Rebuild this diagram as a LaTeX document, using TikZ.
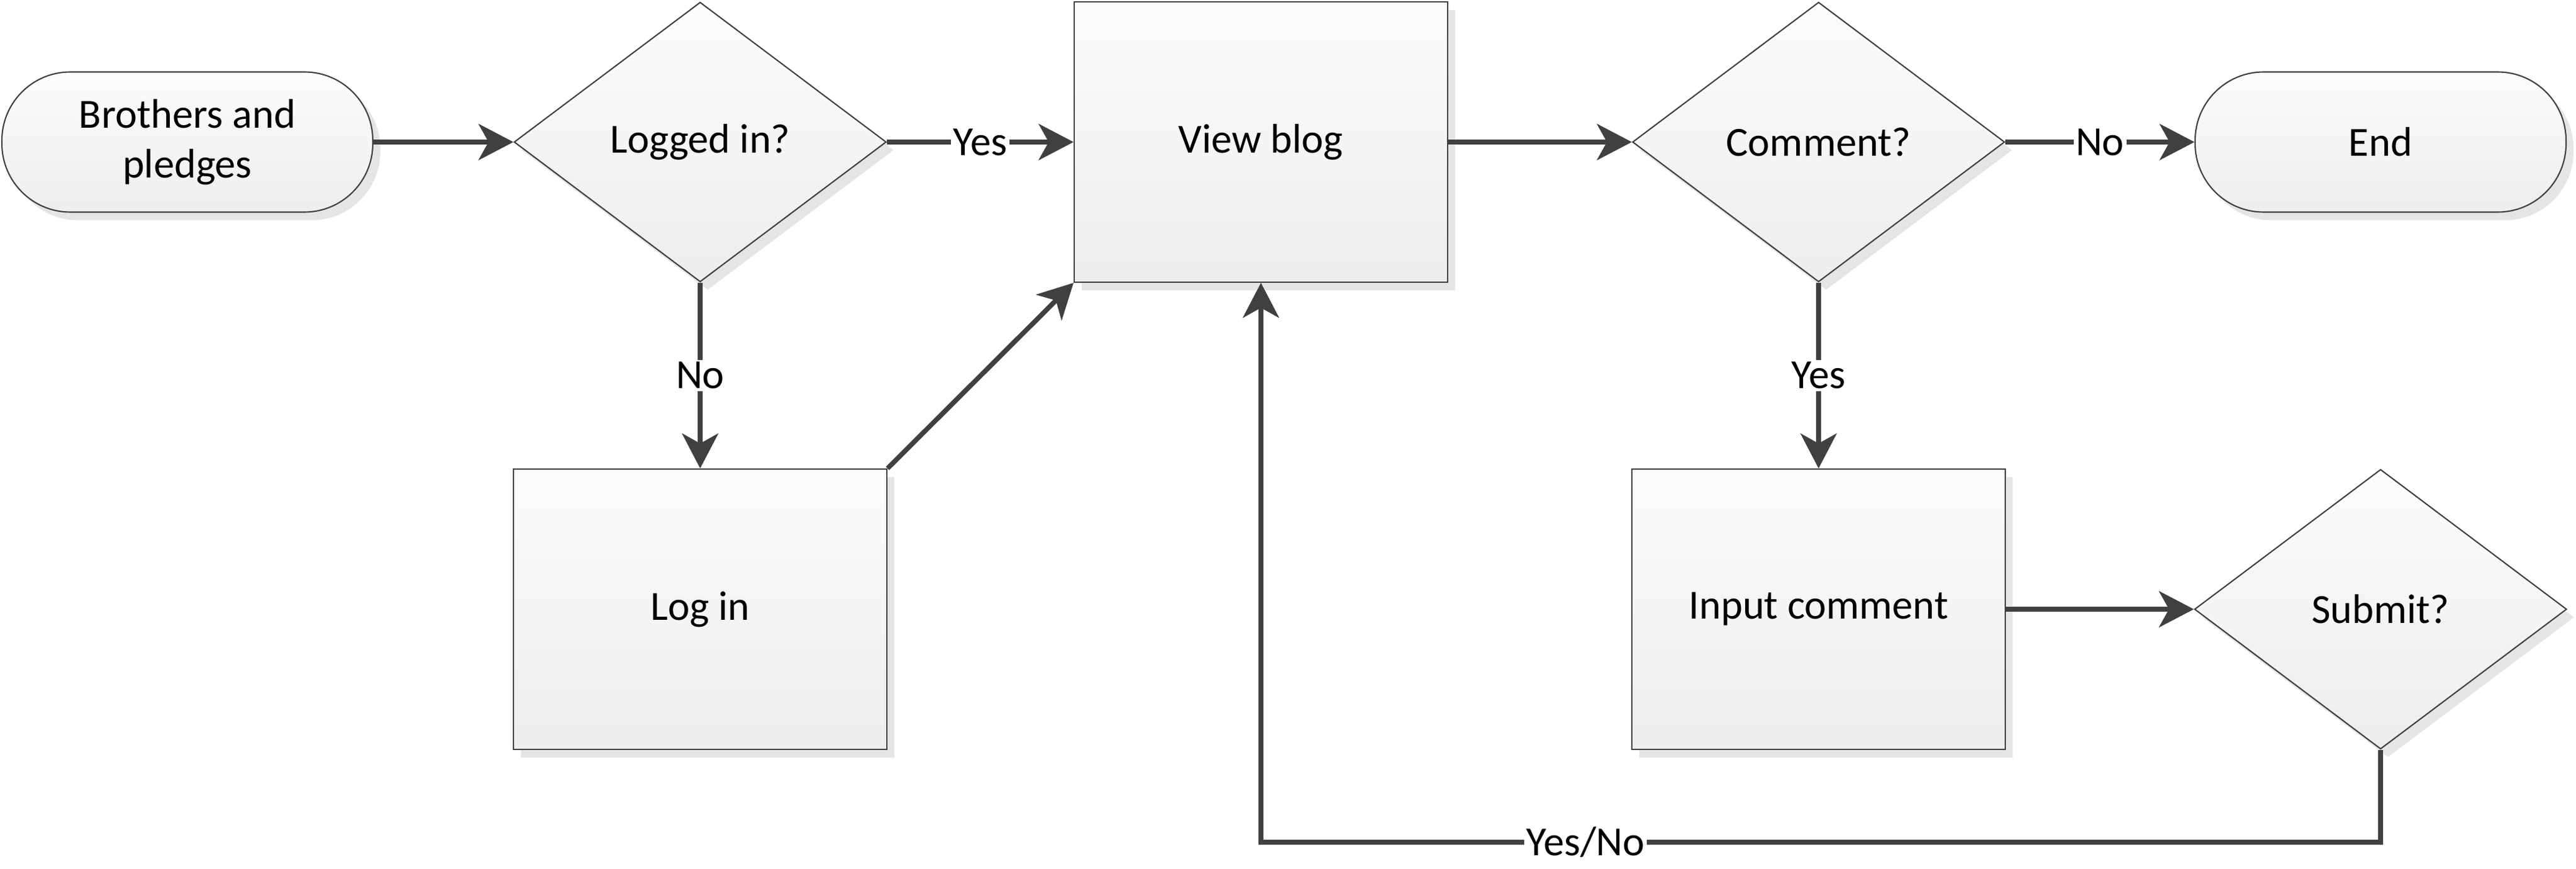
\documentclass[tikz,border=0pt]{standalone}
\usepackage{fontspec}
\setmainfont{Carlito}
\usetikzlibrary{shapes.geometric,shadows,arrows.meta}
\definecolor{edge}{HTML}{404040}
\tikzset{
    shape base/.style={draw=edge, line width=0.6pt, top color=black!1, bottom color=black!7,
        drop shadow={shadow xshift=0.12cm, shadow yshift=-0.13cm, fill=black!10, opacity=1},
        font=\fontsize{18.9}{22.6}\selectfont, align=center},
    box/.style={shape base, rectangle, minimum width=6cm, minimum height=4.5cm},
    decision/.style={shape base, diamond, aspect=1.33, inner sep=0pt, minimum width=5.98cm, minimum height=4.49cm},
    terminal/.style={shape base, rectangle, rounded corners=1.1cm, minimum width=5.96cm, minimum height=2.25cm},
    flow/.style={draw=edge, line width=2.2pt, -{Stealth[length=5.6mm, width=5.8mm, inset=1.6mm]}},
    lbl/.style={fill=white, inner sep=1pt, font=\fontsize{18.9}{22.6}\selectfont},
}
\begin{document}
\begin{tikzpicture}
    \useasboundingbox (0, 0) rectangle (41.39, -13.95);
    \node[terminal] (start) at (3.01, -2.28) {Brothers and\\pledges};
    \node[decision] (logged) at (11.25, -2.28) {Logged in?};
    \node[box] (view) at (20.26, -2.28) {View blog};
    \node[decision] (comment) at (29.22, -2.28) {Comment?};
    \node[terminal] (end) at (38.25, -2.28) {End};
    \node[box] (login) at (11.25, -9.78) {Log in};
    \node[box] (input) at (29.22, -9.78) {Input comment};
    \node[decision] (submit) at (38.25, -9.78) {Submit?};
    \coordinate (loop) at (38.25, -13.52);
    \draw[flow] (start.east) -- (logged.west);
    \draw[flow] (logged.east) -- node[lbl] {Yes} (view.west);
    \draw[flow] (logged.south) -- node[lbl] {No} (login.north);
    \draw[flow] (login.north east) -- (view.south west);
    \draw[flow] (view.east) -- (comment.west);
    \draw[flow] (comment.east) -- node[lbl] {No} (end.west);
    \draw[flow] (comment.south) -- node[lbl] {Yes} (input.north);
    \draw[flow] (input.east) -- (submit.west);
    \draw[flow] (submit.south) -- (loop) -| node[lbl, pos=0.355] {Yes/No} (view.south);
  \end{tikzpicture}
\end{document}
